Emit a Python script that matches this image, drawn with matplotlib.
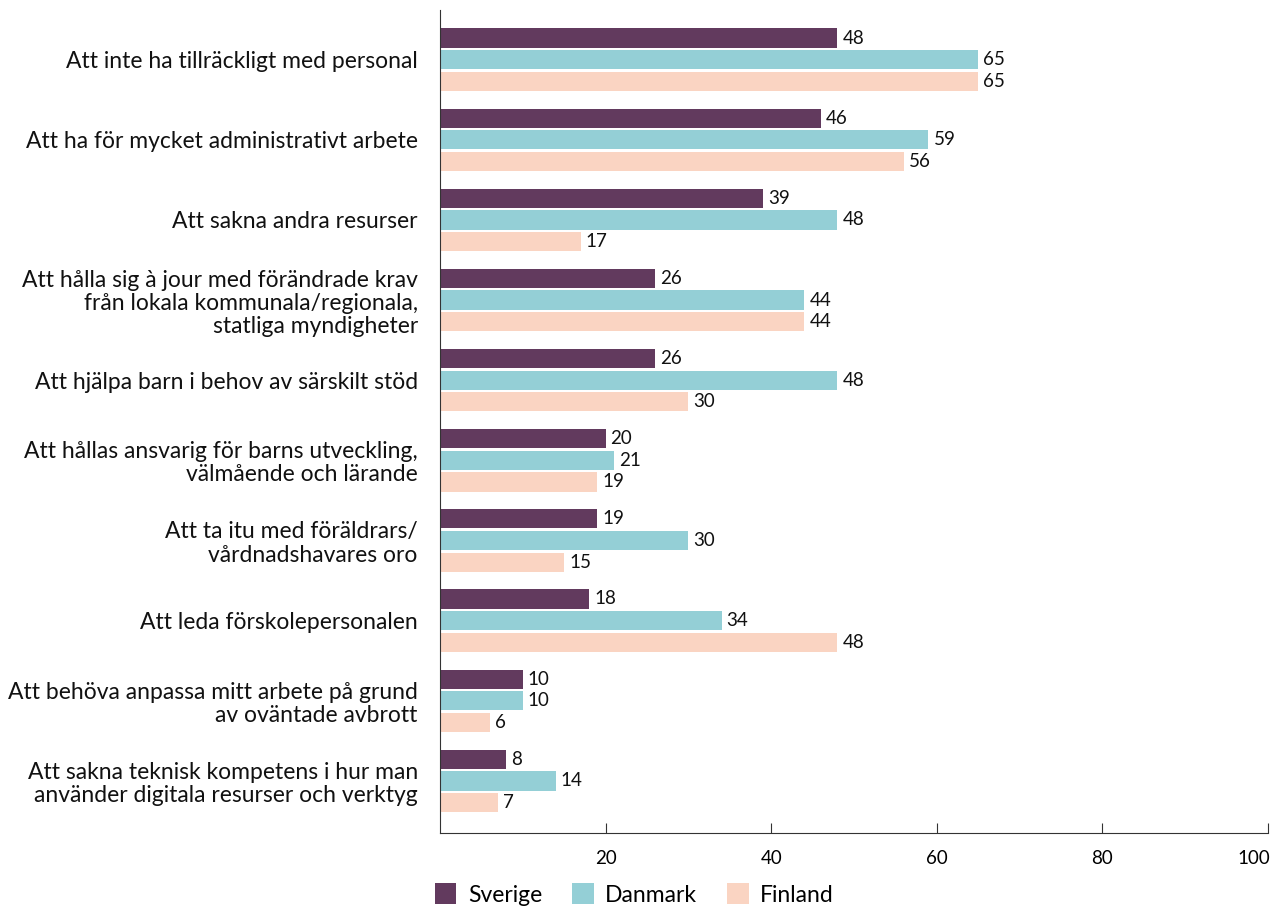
import numpy as np
import matplotlib
matplotlib.use("Agg")
import matplotlib.pyplot as plt
from matplotlib.transforms import ScaledTranslation

plt.rcParams['font.family'] = ['Lato', 'DejaVu Sans']

# data
kategorier = [
    "Att inte ha tillräckligt med personal",
    "Att ha för mycket administrativt arbete",
    "Att sakna andra resurser",
    "Att hålla sig à jour med förändrade krav\nfrån lokala kommunala/regionala,\nstatliga myndigheter",
    "Att hjälpa barn i behov av särskilt stöd",
    "Att hållas ansvarig för barns utveckling,\nvälmående och lärande",
    "Att ta itu med föräldrars/\nvårdnadshavares oro",
    "Att leda förskolepersonalen",
    "Att behöva anpassa mitt arbete på grund\nav oväntade avbrott",
    "Att sakna teknisk kompetens i hur man\nanvänder digitala resurser och verktyg",
]
sverige = [48, 46, 39, 26, 26, 20, 19, 18, 10, 8]
danmark = [65, 59, 48, 44, 48, 21, 30, 34, 10, 14]
finland = [65, 56, 17, 44, 30, 19, 15, 48, 6, 7]
serier = ["Sverige", "Danmark", "Finland"]
farger = ["#623a5e", "#94cfd6", "#fad4c2"]

fig = plt.figure(figsize=(12.71, 9.07), dpi=100)
ax = fig.add_axes([0.3462, 0.0816, 0.6514, 0.9074])

y = np.arange(len(kategorier))
steg = 0.27
hojd = 0.24
for i, (namn, vals, c) in enumerate(zip(serier, [sverige, danmark, finland], farger)):
    pos = y + (i - 1) * steg
    bars = ax.barh(pos, vals, height=hojd, color=c, label=namn)
    for b, v in zip(bars, vals):
        ax.text(v + 0.6, b.get_y() + b.get_height() / 2, str(v),
                va="center", ha="left", fontsize=13.5, color="#111111")

ax.set_xlim(0, 100)
ax.set_ylim(9.65, -0.62)
ax.set_xticks([20, 40, 60, 80, 100])
ax.set_yticks(y)
ax.set_yticklabels(kategorier, fontsize=16.5, linespacing=1.12, color="#111111")
ax.tick_params(axis="y", length=0, pad=16)
ax.tick_params(axis="x", direction="in", length=7, labelsize=13.5, pad=12, color="#333333")
ax.spines["top"].set_visible(False)
ax.spines["right"].set_visible(False)
ax.spines["left"].set_color("#333333")
ax.spines["bottom"].set_color("#333333")

# sista etiketten (100) hålls inom bilden
sista = ax.get_xticklabels()[-1]
sista.set_horizontalalignment("right")
sista.set_transform(sista.get_transform() + ScaledTranslation(2 / 100, 0, fig.dpi_scale_trans))

fig.legend(loc="upper left", bbox_to_anchor=(0.342, 0.026), ncol=3, frameon=False,
           fontsize=16.5, handlelength=0.95, handleheight=1.0, handletextpad=0.5,
           columnspacing=1.3, borderaxespad=0, borderpad=0)

fig.savefig("out.png", dpi=100)
